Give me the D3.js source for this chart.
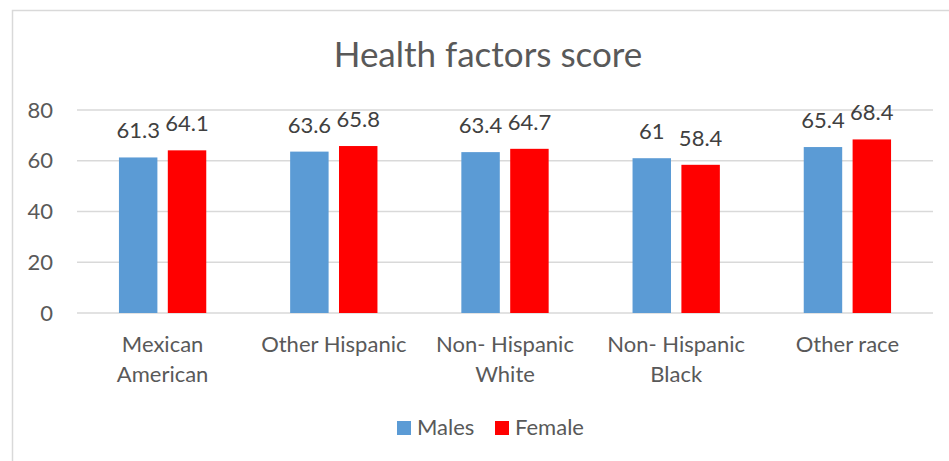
<!DOCTYPE html>
<html>
<head>
<meta charset="utf-8">
<script src="https://cdn.jsdelivr.net/npm/d3@7"></script>
<style>
  body { margin: 0; background: #fff; }
  text { font-family: Lato, "Open Sans", sans-serif; }
</style>
</head>
<body>
<div id="chart"></div>
<script>
var title = "Health factors score";
var categories = ["Mexican American", "Other Hispanic", "Non- Hispanic White", "Non- Hispanic Black", "Other race"];
var categoryLines = [["Mexican", "American"], ["Other Hispanic"], ["Non- Hispanic", "White"], ["Non- Hispanic", "Black"], ["Other race"]];
var seriesNames = ["Males", "Female"];
var males = [61.3, 63.6, 63.4, 61, 65.4];
var female = [64.1, 65.8, 64.7, 58.4, 68.4];
var yTicks = [0, 20, 40, 60, 80];
var colors = ["#5B9BD5", "#FF0000"];

var W = 949, H = 461;
var margin = { top: 110, right: 16, bottom: 148, left: 77 };
var width = W - margin.left - margin.right;
var height = H - margin.top - margin.bottom;

var svg = d3.select("#chart").append("svg")
    .attr("width", W)
    .attr("height", H);

// chart border
svg.append("rect")
    .attr("x", 12.5).attr("y", 10.5)
    .attr("width", 960).attr("height", 470)
    .attr("fill", "none")
    .attr("stroke", "#d9d9d9")
    .attr("stroke-width", 1.5);

svg.append("text")
    .attr("x", 488)
    .attr("y", 67)
    .attr("text-anchor", "middle")
    .style("font-size", "35px")
    .style("fill", "#595959")
    .text(title);

var g = svg.append("g")
    .attr("transform", "translate(" + margin.left + "," + margin.top + ")");

var x0 = d3.scaleBand()
    .domain(categories)
    .range([0, width])
    .paddingInner(0.49)
    .paddingOuter(0.245);
var x1 = d3.scaleBand()
    .domain(seriesNames)
    .range([0, x0.bandwidth()])
    .paddingInner(0.213);
var y = d3.scaleLinear()
    .domain([0, 80])
    .range([height, 0]);

// gridlines
g.selectAll(".grid")
    .data(yTicks)
    .enter().append("line")
    .attr("class", "grid")
    .attr("x1", 0).attr("x2", width)
    .attr("y1", function(d) { return y(d); })
    .attr("y2", function(d) { return y(d); })
    .attr("stroke", "#d9d9d9")
    .attr("stroke-width", 1.5);

// y axis labels
var yAxis = d3.axisLeft(y).tickValues(yTicks).tickSize(0).tickPadding(24);
g.append("g").attr("class", "y-axis").call(yAxis)
    .call(function(s) { s.select(".domain").remove(); })
    .selectAll("text")
    .style("font-size", "22px")
    .style("fill", "#595959")
    .style("font-family", "Lato, 'Open Sans', sans-serif");

var rows = categories.map(function(c, i) {
    return { key: c, values: [ { s: "Males", v: males[i] }, { s: "Female", v: female[i] } ] };
});

var groups = g.selectAll(".cat")
    .data(rows)
    .enter().append("g")
    .attr("class", "cat")
    .attr("transform", function(d) { return "translate(" + x0(d.key) + ",0)"; });

groups.selectAll("rect")
    .data(function(d) { return d.values; })
    .enter().append("rect")
    .attr("x", function(d) { return x1(d.s); })
    .attr("y", function(d) { return y(d.v); })
    .attr("width", x1.bandwidth())
    .attr("height", function(d) { return height - y(d.v); })
    .attr("fill", function(d, i) { return colors[i]; });

groups.selectAll(".val")
    .data(function(d) { return d.values; })
    .enter().append("text")
    .attr("class", "val")
    .attr("x", function(d) { return x1(d.s) + x1.bandwidth() / 2; })
    .attr("y", function(d) { return y(d.v) - 19; })
    .attr("text-anchor", "middle")
    .style("font-size", "22px")
    .style("fill", "#404040")
    .text(function(d) { return d.v; });

// x axis labels (wrapped)
var xl = g.selectAll(".xlab")
    .data(categories)
    .enter().append("text")
    .attr("class", "xlab")
    .attr("text-anchor", "middle")
    .attr("transform", function(d) { return "translate(" + (x0(d) + x0.bandwidth() / 2) + "," + (height + 39) + ")"; })
    .style("font-size", "22px")
    .style("fill", "#595959");
xl.selectAll("tspan")
    .data(function(d, i) { return categoryLines[i]; })
    .enter().append("tspan")
    .attr("x", 0)
    .attr("dy", function(d, i) { return i === 0 ? 0 : 30; })
    .text(function(d) { return d; });

// legend
var legendX = [397, 495];
var legend = svg.selectAll(".legend")
    .data(seriesNames)
    .enter().append("g")
    .attr("class", "legend")
    .attr("transform", function(d, i) { return "translate(" + legendX[i] + ",421)"; });
legend.append("rect")
    .attr("width", 14).attr("height", 14)
    .attr("fill", function(d, i) { return colors[i]; });
legend.append("text")
    .attr("x", 20).attr("y", 14)
    .style("font-size", "22px")
    .style("fill", "#595959")
    .text(function(d) { return d; });
</script>
</body>
</html>
